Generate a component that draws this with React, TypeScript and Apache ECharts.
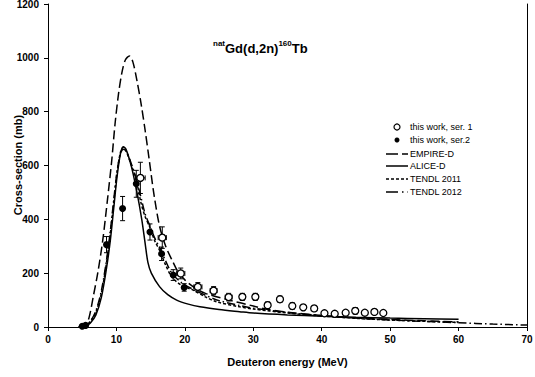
import React, { useEffect, useRef } from "react";
import * as echarts from "echarts";

const FONT = "'Liberation Sans', Arial, sans-serif";

const xTicks = { min: 0, max: 70, interval: 10 };
const yTicks = { min: 0, max: 1200, interval: 200 };

// Measurements: [energy MeV, cross-section mb, y-error, x-error]
const ser1: number[][] = [
  [13.5, 554, 58, 0.7],
  [16.7, 332, 40, 0.6],
  [19.4, 199, 20, 0.6],
  [21.9, 149, 16, 0.6],
  [24.2, 135, 15, 0.5],
  [26.4, 111, 14, 0.5],
  [28.4, 112, 13, 0.4],
  [30.3, 112, 13, 0.4],
  [32.1, 81, 12, 0.4],
  [33.9, 103, 12, 0.4],
  [35.7, 78, 12, 0.3],
  [37.3, 73, 9, 0],
  [38.9, 69, 9, 0],
  [40.4, 51, 7, 0],
  [41.9, 49, 7, 0],
  [43.5, 53, 8, 0],
  [44.9, 60, 12, 0],
  [46.3, 53, 0, 0],
  [47.7, 56, 9, 0],
  [49.0, 52, 0, 0],
];

const ser2: number[][] = [
  [5.0, 3, 0, 0],
  [5.5, 6, 0, 0],
  [8.55, 306, 30, 0],
  [10.9, 440, 45, 0],
  [12.9, 532, 50, 0],
  [14.9, 353, 30, 0],
  [16.6, 272, 25, 0],
  [18.3, 193, 20, 0],
  [19.9, 147, 14, 0],
];

const empireD: number[][] = [
  [4.5, 0], [5.5, 10], [6.0, 35], [6.6, 111], [7.3, 205], [8.0, 322], [8.7, 475],
  [9.3, 615], [9.8, 755], [10.3, 865], [10.8, 945], [11.3, 992], [11.9, 1007],
  [12.4, 985], [13.0, 915], [13.6, 830], [14.2, 730], [14.8, 620], [15.5, 490],
  [16.3, 375], [17.2, 300], [18.1, 250], [19.0, 205], [20.0, 175], [21.2, 150],
  [23.0, 125], [26.5, 100], [30, 78], [32, 66], [35, 55], [40, 43], [45, 34],
  [50, 28], [55, 23], [60, 19],
];

const aliceD: number[][] = [
  [4.5, 0], [5.5, 3], [6.2, 15], [7.0, 45], [7.8, 110], [8.5, 210], [9.1, 320],
  [9.6, 440], [10.1, 560], [10.6, 645], [11.0, 670], [11.4, 660], [12.2, 595],
  [13.0, 500], [13.7, 400], [14.2, 310], [14.6, 240], [15.1, 200], [16.3, 150],
  [17.5, 120], [18.8, 100], [20.5, 85], [22.2, 75], [25, 65], [28, 57], [30, 52],
  [35, 45], [40, 40], [45, 36], [50, 33], [55, 31], [60, 29],
];

const tendl2011: number[][] = [
  [4.5, 0], [5.5, 5], [6.2, 20], [7.0, 55], [7.8, 125], [8.5, 230], [9.1, 345],
  [9.6, 460], [10.1, 575], [10.6, 650], [11.0, 668], [11.4, 655], [12.2, 600],
  [12.9, 545], [13.6, 460], [14.2, 410], [14.9, 370], [15.6, 320], [16.3, 285],
  [17.2, 230], [18.1, 186], [19.5, 155], [21.2, 137], [23.0, 112], [24.6, 94],
  [28, 75], [30, 67], [35, 52], [40, 41], [45, 32], [50, 26], [55, 21], [60, 17],
];

const tendl2012: number[][] = [
  [4.5, 0], [5.5, 6], [6.2, 22], [7.0, 60], [7.8, 135], [8.5, 240], [9.1, 355],
  [9.6, 470], [10.1, 580], [10.6, 645], [11.0, 660], [11.5, 650], [12.2, 605],
  [12.9, 550], [13.6, 480], [14.2, 420], [14.9, 375], [15.6, 330], [16.3, 295],
  [17.2, 245], [18.1, 200], [19.5, 165], [21.2, 140], [23.0, 118], [25, 98],
  [28, 80], [30, 70], [35, 54], [40, 42], [45, 33], [50, 26], [55, 21], [60, 16],
  [65, 11], [70, 7],
];

const legendNames = [
  "this work, ser. 1",
  "this work, ser.2",
  "EMPIRE-D",
  "ALICE-D",
  "TENDL 2011",
  "TENDL 2012",
];

const yAxisTitle = "Cross-section (mb)";
const xAxisTitle = "Deuteron energy (MeV)";

const DASH_EMPIRE = [9, 4];
const DASH_T11 = [3, 2];
const DASH_T12 = [8, 3, 1.5, 3];

function renderErr(_params: any, api: any) {
  const x = api.value(0);
  const y = api.value(1);
  const ey = api.value(2);
  const ex = api.value(3);
  const c = api.coord([x, y]);
  const st = { stroke: "#000", lineWidth: 1 };
  const cap = 2.5;
  const children: any[] = [];
  if (ey > 0) {
    const lo = api.coord([x, y - ey]);
    const hi = api.coord([x, y + ey]);
    children.push({ type: "line", shape: { x1: c[0], y1: lo[1], x2: c[0], y2: hi[1] }, style: st });
    children.push({ type: "line", shape: { x1: c[0] - cap, y1: lo[1], x2: c[0] + cap, y2: lo[1] }, style: st });
    children.push({ type: "line", shape: { x1: c[0] - cap, y1: hi[1], x2: c[0] + cap, y2: hi[1] }, style: st });
  }
  if (ex > 0) {
    const l = api.coord([x - ex, y]);
    const r = api.coord([x + ex, y]);
    children.push({ type: "line", shape: { x1: l[0], y1: c[1], x2: r[0], y2: c[1] }, style: st });
    children.push({ type: "line", shape: { x1: l[0], y1: c[1] - cap, x2: l[0], y2: c[1] + cap }, style: st });
    children.push({ type: "line", shape: { x1: r[0], y1: c[1] - cap, x2: r[0], y2: c[1] + cap }, style: st });
  }
  return { type: "group", children };
}

function legendGraphics() {
  const x0 = 386;
  const x1 = 408;
  const tx = 410;
  const ys = [127, 140, 154, 166, 179, 192];
  const textStyle = (t: string, y: number) => ({
    type: "text",
    x: tx,
    y,
    style: { text: t, fill: "#000", font: `9px ${FONT}`, verticalAlign: "middle", align: "left" },
  });
  const els: any[] = [];
  els.push({ type: "circle", shape: { cx: 397, cy: ys[0], r: 3 }, style: { fill: "#fff", stroke: "#000", lineWidth: 1.2 } });
  els.push({ type: "circle", shape: { cx: 397, cy: ys[1], r: 2.5 }, style: { fill: "#000" } });
  const dashes: any[] = [[12, 4], null, DASH_T11, [12, 4, 1.5, 4]];
  for (let i = 0; i < 4; i++) {
    els.push({
      type: "line",
      shape: { x1: x0, y1: ys[i + 2], x2: x1, y2: ys[i + 2] },
      style: { stroke: "#000", lineWidth: 1.5, lineDash: dashes[i] || undefined },
    });
  }
  legendNames.forEach((n, i) => els.push(textStyle(n, ys[i])));
  els.push({
    type: "text",
    x: 18,
    y: 165,
    rotation: Math.PI / 2,
    z: 10,
    style: { text: yAxisTitle, fill: "#000", font: `bold 11px ${FONT}`, align: "center", verticalAlign: "middle" },
  });
  return els;
}

export default function App() {
  const ref = useRef<HTMLDivElement>(null);
  useEffect(() => {
    if (!ref.current) return;
    const chart = echarts.init(ref.current, null, { renderer: "svg" });
    const lineSeries = (name: string, data: number[][], type: any, width: number) => ({
      name,
      type: "line",
      data,
      symbol: "none",
      smooth: 0.3,
      lineStyle: { color: "#000", width, type },
      itemStyle: { color: "#000" },
      z: 2,
    });
    chart.setOption({
      animation: false,
      backgroundColor: "#fff",
      textStyle: { fontFamily: FONT },
      title: {
        text: "{sup|nat}{b|Gd(d,2n)}{sup|160}{b|Tb}",
        left: 208,
        top: 34,
        textStyle: {
          rich: {
            b: { fontSize: 13, fontWeight: "bold", fontFamily: FONT, color: "#000", lineHeight: 16, verticalAlign: "bottom" },
            sup: { fontSize: 8, fontWeight: "bold", fontFamily: FONT, color: "#000", lineHeight: 16, verticalAlign: "top" },
          },
        },
      },
      grid: { left: 48, right: 8, top: 4, bottom: 50, containLabel: false, outerBoundsMode: "none" },
      graphic: legendGraphics(),
      xAxis: {
        type: "value",
        ...xTicks,
        name: xAxisTitle,
        nameLocation: "middle",
        nameGap: 29,
        nameTextStyle: { fontSize: 11, fontWeight: "bold", color: "#000", fontFamily: FONT },
        axisLine: { lineStyle: { color: "#000", width: 1 } },
        axisTick: { inside: false, length: 4, lineStyle: { color: "#000" } },
        axisLabel: { fontSize: 10, fontWeight: "bold", color: "#000", margin: 7, fontFamily: FONT, formatter: (v: number) => String(v) },
        splitLine: { show: false },
      },
      yAxis: [
        {
          type: "value",
          ...yTicks,
          axisLine: { show: true, lineStyle: { color: "#000", width: 1 } },
          axisTick: { show: true, inside: false, length: 4, lineStyle: { color: "#000" } },
          axisLabel: { fontSize: 10, fontWeight: "bold", color: "#000", margin: 9, fontFamily: FONT, formatter: (v: number) => String(v) },
          splitLine: { show: false },
        },
        {
          type: "value",
          ...yTicks,
          position: "right",
          axisLine: { show: true, lineStyle: { color: "#000", width: 1 } },
          axisTick: { show: false },
          axisLabel: { show: false },
          splitLine: { show: false },
        },
      ],
      series: [
        lineSeries(legendNames[2], empireD, DASH_EMPIRE, 1.5),
        lineSeries(legendNames[3], aliceD, "solid", 1.5),
        lineSeries(legendNames[4], tendl2011, DASH_T11, 1.5),
        lineSeries(legendNames[5], tendl2012, DASH_T12, 1.5),
        {
          name: "err1",
          type: "custom",
          renderItem: renderErr,
          data: ser1,
          encode: { x: 0, y: 1 },
          z: 3,
          silent: true,
        },
        {
          name: "err2",
          type: "custom",
          renderItem: renderErr,
          data: ser2,
          encode: { x: 0, y: 1 },
          z: 3,
          silent: true,
        },
        {
          name: legendNames[0],
          type: "scatter",
          data: ser1.map((d) => [d[0], d[1]]),
          symbol: "circle",
          symbolSize: 7,
          itemStyle: { color: "#fff", borderColor: "#000", borderWidth: 1.3, opacity: 1 },
          z: 4,
        },
        {
          name: legendNames[1],
          type: "scatter",
          data: ser2.map((d) => [d[0], d[1]]),
          symbol: "circle",
          symbolSize: 7,
          itemStyle: { color: "#000", opacity: 1 },
          z: 4,
        },
      ],
    });
    return () => chart.dispose();
  }, []);
  return (
    <div
      ref={ref}
      style={{ position: "fixed", left: 0, top: 0, width: 535, height: 377, background: "#fff" }}
    />
  );
}
